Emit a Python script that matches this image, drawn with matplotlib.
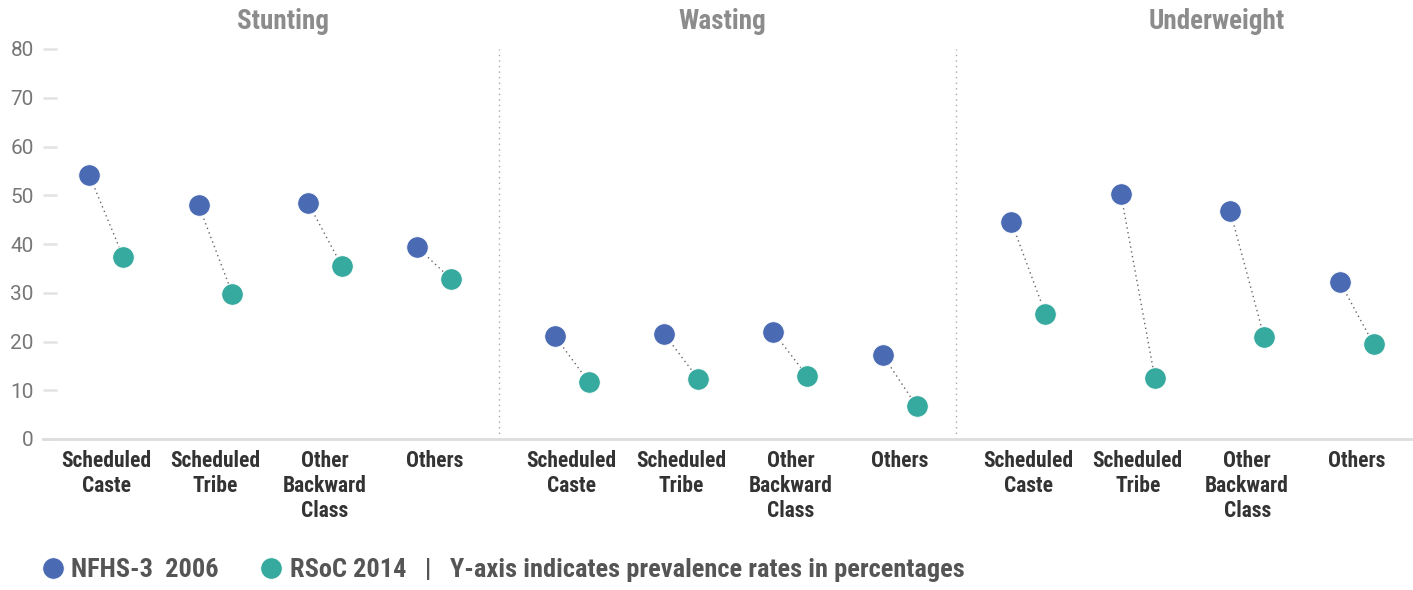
import matplotlib
matplotlib.use('Agg')
import matplotlib.pyplot as plt
from matplotlib.transforms import blended_transform_factory

plt.rcParams['font.family'] = ['Roboto Condensed', 'Roboto', 'DejaVu Sans']

# データ
panels = ['Stunting', 'Wasting', 'Underweight']
groups = ['Scheduled\nCaste', 'Scheduled\nTribe', 'Other\nBackward\nClass', 'Others']
nfhs_2006 = [54.2, 48.0, 48.5, 39.3,
             21.2, 21.6, 21.9, 17.2,
             44.5, 50.3, 46.7, 32.3]
rsoc_2014 = [37.4, 29.7, 35.5, 32.8,
             11.7, 12.4, 12.9, 6.7,
             25.7, 12.6, 20.9, 19.5]
yticks = [0, 10, 20, 30, 40, 50, 60, 70, 80]

# レイアウト
PW = 4.176                      # パネル幅(カテゴリ間隔=1)
first_off = [0.58, 0.66, 0.66]  # パネル内の最初のカテゴリ位置
title_off = [2.2, 2.04, 2.38]
dx = 0.155
blue = '#4a6bb3'
teal = '#36aa9f'

centers = []
for p in range(len(panels)):
    for i in range(len(groups)):
        centers.append(p * PW + first_off[p] + i)
xb = [c - dx for c in centers]
xt = [c + dx for c in centers]

fig = plt.figure(figsize=(14.13, 5.9), dpi=100)
ax = fig.add_axes([42.7 / 1413, 151 / 590, 1370.3 / 1413, 390 / 590])

# 点線で接続
for a, b, ya, yb in zip(xb, xt, nfhs_2006, rsoc_2014):
    ax.plot([a, b], [ya, yb], ls=(0, (1, 2.5)), color='#666666', lw=1, zorder=1)

ax.plot(xb, nfhs_2006, 'o', ms=15.5, color=blue, mec='white', mew=0.6, zorder=3, label='NFHS-3  2006')
ax.plot(xt, rsoc_2014, 'o', ms=15.5, color=teal, mec='white', mew=0.6, zorder=3,
        label='RSoC 2014   |   Y-axis indicates prevalence rates in percentages')

# パネル区切り
for p in range(1, len(panels)):
    ax.axvline(p * PW, color='#aaaaaa', ls=(0, (1, 3)), lw=1, zorder=0)

# パネルタイトル
trans = blended_transform_factory(ax.transData, ax.transAxes)
for p, name in enumerate(panels):
    ax.text(p * PW + title_off[p], 1.07, name, transform=trans, ha='center', va='center',
            fontsize=19.5, fontweight='bold', color='#8c8c8c')

ax.set_xlim(0, PW * len(panels))
ax.set_ylim(0, 80)
ax.set_yticks(yticks)
ax.set_yticklabels([str(v) for v in yticks], fontsize=15, color='#777777',
                   family=['Roboto', 'DejaVu Sans'])
ax.tick_params(axis='y', direction='in', length=10, width=1.8, color='#e2e2e2', pad=6.5)
ax.set_xticks(centers)
ax.set_xticklabels(groups * len(panels), fontsize=15.5, fontweight='bold', color='#333333',
                   linespacing=1.18)
ax.tick_params(axis='x', length=0, pad=8)
for s in ['top', 'right', 'left']:
    ax.spines[s].set_visible(False)
ax.spines['bottom'].set_color('#dddddd')
ax.spines['bottom'].set_linewidth(2)

leg = ax.legend(loc='center left', bbox_to_anchor=(42 / 1413, 20 / 590),
                bbox_transform=fig.transFigure, ncol=2, frameon=False,
                handlelength=0.8, handletextpad=0.3, columnspacing=1.6,
                borderpad=0, borderaxespad=0,
                prop={'size': 19, 'weight': 'bold'}, labelcolor='#555555')

plt.savefig('out.png', dpi=100)
plt.close()
